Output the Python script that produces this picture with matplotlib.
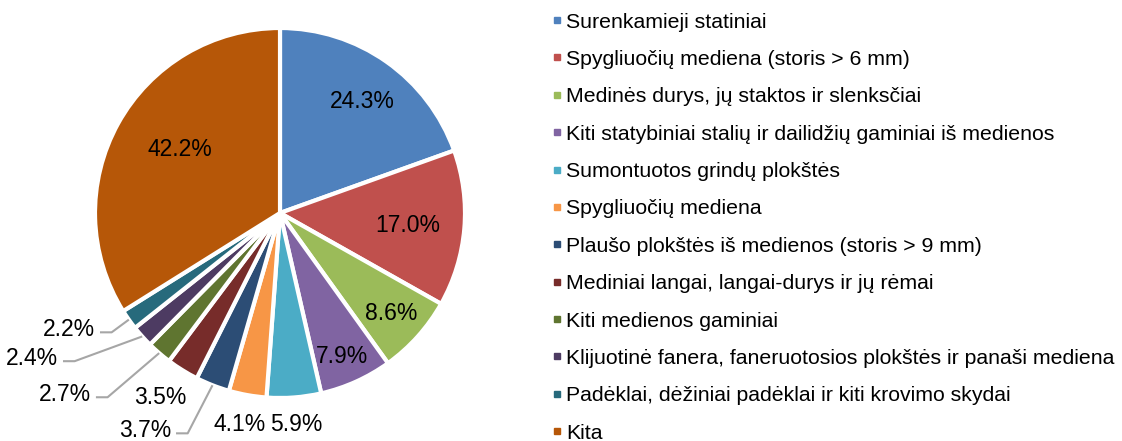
import numpy as np
import matplotlib.pyplot as plt
from matplotlib.lines import Line2D

plt.rcParams['font.family'] = ['Liberation Sans', 'DejaVu Sans']

# data (labels sum to more than 100, pie is normalised)
categories = ['Surenkamieji statiniai',
              'Spygliuočių mediena (storis > 6 mm)',
              'Medinės durys, jų staktos ir slenksčiai',
              'Kiti statybiniai stalių ir dailidžių gaminiai iš medienos',
              'Sumontuotos grindų plokštės',
              'Spygliuočių mediena',
              'Plaušo plokštės iš medienos (storis > 9 mm)',
              'Mediniai langai, langai-durys ir jų rėmai',
              'Kiti medienos gaminiai',
              'Klijuotinė fanera, faneruotosios plokštės ir panaši mediena',
              'Padėklai, dėžiniai padėklai ir kiti krovimo skydai',
              'Kita']
values = [24.3, 17.0, 8.6, 7.9, 5.9, 4.1, 3.7, 3.5, 2.7, 2.4, 2.2, 42.2]

colors = ['#4F81BD', '#C0504D', '#9BBB59', '#8064A2', '#4BACC6', '#F79646',
          '#2C4D75', '#772C2A', '#5F7530', '#4D3B62', '#276A7C', '#B65708']

# label text positions (pie radius = 1), and which labels get a leader line
label_pos = [(0.443, 0.6), (0.692, -0.065), (0.603, -0.541), (0.335, -0.773),
             (0.087, -1.141), (-0.216, -1.141), (-0.589, -1.176), (-0.649, -1.0),
             (-1.022, -0.981), (-1.2, -0.786), (-1.0, -0.630), (-0.541, 0.341)]
leader = [False, False, False, False, False, False, True, False, True, True, True, False]

fig = plt.figure(figsize=(11.22, 4.41), dpi=100)
ax = fig.add_axes([0, 0, 540 / 1122, 1])

wedges, _ = ax.pie(values, colors=colors, startangle=90, counterclock=False,
                   wedgeprops=dict(edgecolor='white', linewidth=3))
ax.set_xlim(-280 / 185, 260 / 185)
ax.set_ylim(-228 / 185, 213 / 185)
ax.set_aspect('auto')
ax.axis('off')

for w, v, (tx, ty), ld in zip(wedges, values, label_pos, leader):
    txt = '%.1f%%' % v
    if ld:
        ax.text(tx, ty, txt, ha='right', va='center', fontsize=16.5, color='black')
        mid = np.deg2rad((w.theta1 + w.theta2) / 2)
        ex, ey = np.cos(mid), np.sin(mid)
        ly = ty - 0.015
        ax.plot([tx + 0.027, tx + 0.09, ex], [ly, ly, ey], color='#A6A6A6', lw=1.5,
                solid_capstyle='butt')
    else:
        ax.text(tx, ty, txt, ha='center', va='center', fontsize=16.5, color='black')

handles = [Line2D([], [], marker='s', linestyle='none', markersize=4.5,
                  markerfacecolor=c, markeredgecolor=c) for c in colors]
fig.legend(handles, categories, loc='upper left', bbox_to_anchor=(544 / 1122, 1 - 4 / 441),
           frameon=False, fontsize=15.3, handlelength=0.4, handletextpad=0.24,
           labelspacing=0.865, borderaxespad=0)

fig.savefig('out.png', dpi=100)
